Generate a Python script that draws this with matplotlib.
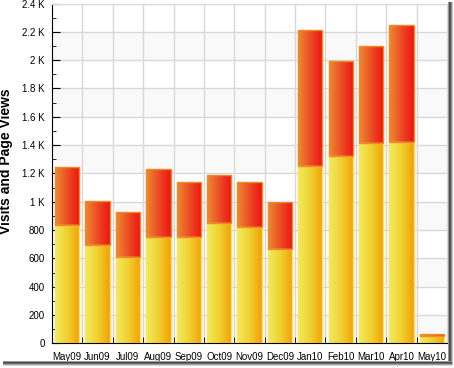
import matplotlib.pyplot as plt
import numpy as np
from matplotlib.colors import LinearSegmentedColormap
from matplotlib.patches import Rectangle
from matplotlib.ticker import FuncFormatter, MultipleLocator

plt.rcParams['font.family'] = ['Liberation Sans', 'DejaVu Sans']

months = ['May09', 'Jun09', 'Jul09', 'Aug09', 'Sep09', 'Oct09', 'Nov09',
          'Dec09', 'Jan10', 'Feb10', 'Mar10', 'Apr10', 'May10']
visits = [835, 691, 613, 748, 748, 847, 819, 663, 1253, 1323, 1413, 1420, 50]
page_views = [411, 312, 312, 481, 389, 340, 318, 335, 962, 671, 687, 828, 18]

W, H = 454, 368
fig = plt.figure(figsize=(W / 100, H / 100), dpi=100)
ax = fig.add_axes([52 / W, 24.7 / H, 395 / W, 339.8 / H])

x = np.arange(len(months))

# bandas de fondo alternas
for lo in range(0, 2400, 400):
    ax.axhspan(lo, lo + 200, color='#f9f9f9', zorder=0, lw=0)

cmap_low = LinearSegmentedColormap.from_list('low', ['#f1ec5e', '#f0d030', '#f4a008'])
cmap_high = LinearSegmentedColormap.from_list('high', ['#ec8a32', '#ec4c24', '#ee1414'])
grad = np.linspace(0, 1, 64).reshape(1, -1)

b1 = ax.bar(x, visits, width=0.8, facecolor='none', edgecolor='#fde25a', lw=1, zorder=3)
b2 = ax.bar(x, page_views, bottom=visits, width=0.8, facecolor='none',
            edgecolor='#f08a22', lw=1, zorder=3)

for bars, cmap in [(b1, cmap_low), (b2, cmap_high)]:
    for p in bars:
        x0, y0 = p.get_x(), p.get_y()
        im = ax.imshow(grad, cmap=cmap, aspect='auto', zorder=2,
                       extent=(x0, x0 + p.get_width(), y0, y0 + p.get_height()))
        im.set_clip_path(p)

ax.set_xlim(-0.5, len(months) - 0.5)
ax.set_ylim(0, 2400)

ax.set_xticks(x)
ax.set_xticklabels(months)
ax.set_xticks(x[:-1] + 0.5, minor=True)
ax.tick_params(axis='x', which='major', length=0, pad=6, labelsize=7)
ax.tick_params(axis='x', which='minor', direction='in', length=4, color='black')
ax.grid(True, axis='x', which='minor', color='#d8d8d8', lw=1, zorder=1)

ax.yaxis.set_major_locator(MultipleLocator(200))
ax.yaxis.set_minor_locator(MultipleLocator(100))
ax.yaxis.set_major_formatter(FuncFormatter(
    lambda v, _: f'{v / 1000:g} K' if v >= 1000 else f'{v:g}'))
ax.tick_params(axis='y', which='major', direction='in', length=6, pad=5, labelsize=7)
ax.tick_params(axis='y', which='minor', direction='in', length=3)
ax.grid(True, axis='y', which='major', color='#d8d8d8', lw=1, zorder=1)
ax.set_axisbelow(True)

ax.set_ylabel('Visits and Page Views', fontsize=10, fontweight='bold')
ax.yaxis.set_label_coords(-39 / 395, (343.3 - 161) / 339.8)

for s in ['top', 'right']:
    ax.spines[s].set_color('#d8d8d8')
for s in ['left', 'bottom']:
    ax.spines[s].set_color('black')

# sombra del marco
shade_r = ['#9a9a9a', '#4a4a4a', '#5a5a5a', '#8a8a8a', '#c8c8c8']
for i, c in enumerate(shade_r):
    fig.add_artist(Rectangle(((448 + i) / W, 3 / H), 1 / W, 363 / H,
                             transform=fig.transFigure, color=c, lw=0))
shade_b = ['#9a9a9a', '#4a4a4a', '#6a6a6a', '#a0a0a0', '#d8d8d8']
for i, c in enumerate(shade_b):
    fig.add_artist(Rectangle((3 / W, (H - 362 - i) / H), 449 / W, 1 / H,
                             transform=fig.transFigure, color=c, lw=0))

fig.savefig('out.png', dpi=100)
